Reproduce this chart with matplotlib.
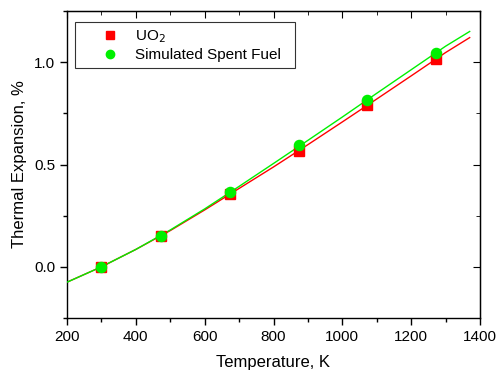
import matplotlib
matplotlib.use("Agg")
import matplotlib.pyplot as plt
from matplotlib.ticker import MultipleLocator
from matplotlib.lines import Line2D

plt.rcParams["font.family"] = ["Liberation Sans", "DejaVu Sans"]

# measured points
temp_pts = [298, 473, 673, 873, 1073, 1273]
uo2_pts = [0.0, 0.15, 0.355, 0.565, 0.79, 1.015]
ssf_pts = [0.0, 0.15, 0.365, 0.595, 0.815, 1.045]

# fitted curves
temp_fit = [200, 300, 400, 500, 600, 700, 800, 900, 1000, 1100, 1200, 1300, 1370]
uo2_fit = [-0.075, 0.0, 0.085, 0.177, 0.278, 0.383, 0.488, 0.597, 0.708,
           0.82, 0.933, 1.047, 1.12]
ssf_fit = [-0.075, 0.0, 0.085, 0.18, 0.283, 0.393, 0.505, 0.618, 0.732,
           0.848, 0.963, 1.078, 1.15]

RED = "#ff0000"
GREEN = "#00f000"

fig = plt.figure(figsize=(4.96, 3.71), dpi=100)
ax = fig.add_axes([67 / 496, 1 - 318 / 371, 413 / 496, 307 / 371])

ax.plot(temp_fit, uo2_fit, color=RED, lw=1.0, zorder=2)
ax.plot(temp_fit, ssf_fit, color=GREEN, lw=1.0, zorder=3)
ax.plot(temp_pts, uo2_pts, "s", color=RED, ms=6.7, mec=RED, zorder=4)
ax.plot(temp_pts, ssf_pts, "o", color=GREEN, ms=7.3, mec=GREEN, zorder=5)

ax.set_xlim(200, 1400)
ax.set_ylim(-0.25, 1.25)
ax.xaxis.set_major_locator(MultipleLocator(200))
ax.xaxis.set_minor_locator(MultipleLocator(100))
ax.yaxis.set_major_locator(MultipleLocator(0.5))
ax.yaxis.set_minor_locator(MultipleLocator(0.25))
ax.yaxis.set_major_formatter(plt.FuncFormatter(lambda v, p: f"{v:.1f}"))

ax.tick_params(which="both", direction="out", top=False, right=False,
               labelsize=11, width=1.0)
ax.tick_params(which="major", length=5)
ax.tick_params(which="minor", length=3)
# inward ticks on top and right
axt = ax.secondary_xaxis("top")
axt.xaxis.set_major_locator(MultipleLocator(200))
axt.xaxis.set_minor_locator(MultipleLocator(100))
axt.tick_params(which="both", direction="in", labeltop=False)
axt.tick_params(which="major", length=5)
axt.tick_params(which="minor", length=3)
axr = ax.secondary_yaxis("right")
axr.yaxis.set_major_locator(MultipleLocator(0.5))
axr.yaxis.set_minor_locator(MultipleLocator(0.25))
axr.tick_params(which="both", direction="in", labelright=False)
axr.tick_params(which="major", length=5)
axr.tick_params(which="minor", length=3)

for s in ax.spines.values():
    s.set_linewidth(1.0)

ax.set_xlabel("Temperature, K", fontsize=12, labelpad=8)
ax.set_ylabel("Thermal Expansion, %", fontsize=12, labelpad=5)

handles = [
    Line2D([], [], ls="none", marker="s", color=RED, ms=5.5),
    Line2D([], [], ls="none", marker="o", color=GREEN, ms=6),
]
leg = ax.legend(handles, ["UO$_2$", "Simulated Spent Fuel"],
                loc="upper left",
                bbox_to_anchor=((75 - 67) / 413, 1 - (22 - 11) / 307,
                                220 / 413, 0.0),
                mode="expand", fontsize=11, frameon=True, fancybox=False,
                edgecolor="black", borderpad=0.4, labelspacing=0.2,
                handlelength=3.8, handletextpad=-0.25, borderaxespad=0)
leg.get_frame().set_linewidth(0.8)

fig.savefig("out.png", dpi=100)
